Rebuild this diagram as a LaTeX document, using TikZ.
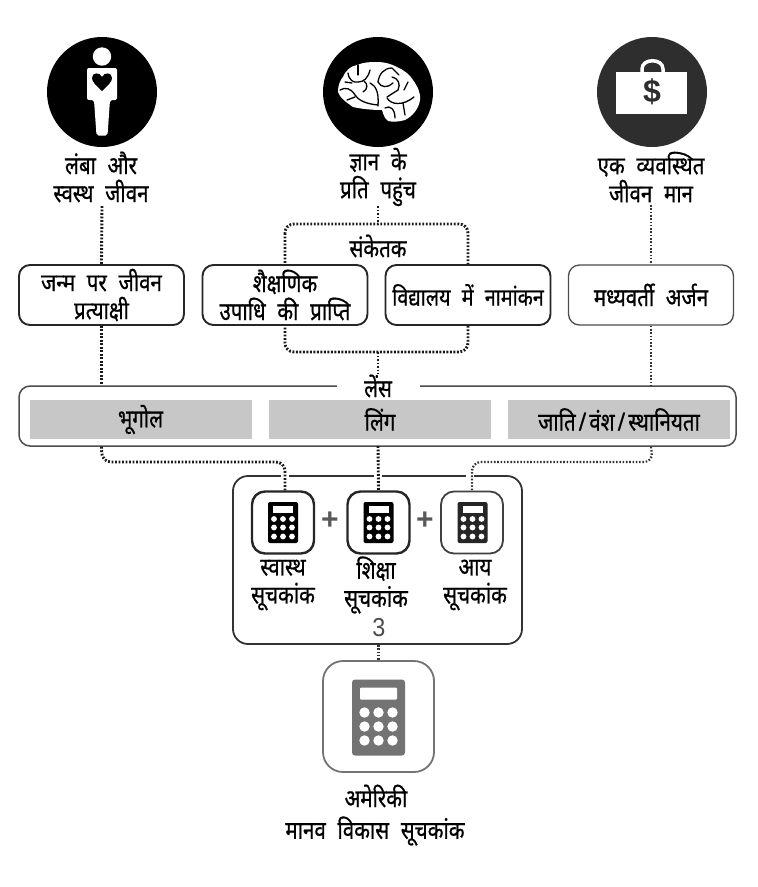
\documentclass[tikz,border=0pt]{standalone}
\usepackage{fontspec}
\newfontfamily\hin[Script=Devanagari,FakeStretch=0.82,FakeBold=0.7,WordSpace=2.2]{Noto Sans}
\setsansfont{Liberation Sans}
\tikzset{x=1pt,y=-1pt,
  txt/.style={font=\hin\fontsize{25}{28}\selectfont,align=center,inner sep=0pt,text=black},
  bx/.style={draw=black!85,line width=1.9pt,rounded corners=11pt,fill=white,inner sep=0pt,font=\hin\fontsize{25}{28}\selectfont,align=center,minimum width=165pt,minimum height=60pt},
  bxlight/.style={bx,draw=black!70,line width=1.3pt},
  dotl/.style={draw=black!90,line width=2.9pt,dash pattern=on 1.8pt off 1.7pt},
  dotthin/.style={draw=black!80,line width=2.2pt,dash pattern=on 1.6pt off 1.7pt},
  graybar/.style={fill=black!22,inner sep=0pt,minimum height=39pt,font=\hin\fontsize{25}{28}\selectfont},
  disc/.style={circle,fill=black,minimum size=110pt,inner sep=0pt},
  halo/.style={draw=white,line width=8pt},
  icon/.style={draw=black!85,line width=2.4pt,rounded corners=13pt,fill=white,minimum size=62pt,inner sep=0pt},
  plus/.style={font=\sffamily\bfseries\fontsize{30}{30}\selectfont,text=black!65,inner sep=0pt},
}
\newcommand{\calcicon}[4]{% centre x, centre y, scale, colour
  \begin{scope}[shift={(#1,#2)},scale=#3]
    \fill[#4,rounded corners=2pt] (-15,-20.5) rectangle (15,20.5);
    \fill[white] (-10,-17) rectangle (10,-9.5);
    \foreach \kx in {-9,0,9}\foreach \ky in {-3.5,5,14}{\fill[white] (\kx,\ky) circle (2.9);}
  \end{scope}}
\begin{document}
\begin{tikzpicture}
\useasboundingbox (0,0) rectangle (758,887);
% discs
\node[disc] (d1) at (102,92) {};
\node[disc] (d2) at (378,92) {};
\node[disc,fill=black!82] (d3) at (652,92) {};
% person
\fill[white] (102,56.5) circle (9.2);
\fill[white,rounded corners=2pt] (87,68) -- (117,68) -- (117,100) -- (110,100) -- (107.5,135.5) -- (96.5,135.5) -- (94,100) -- (87,100) -- cycle;
\fill[black] (102,91) .. controls (96,85) and (92,82) .. (92,78) .. controls (92,72) and (100,72) .. (102,77) .. controls (104,72) and (112,72) .. (112,78) .. controls (112,82) and (108,85) .. (102,91) -- cycle;
% brain
\fill[white] (338,92) .. controls (338,84) and (341,79) .. (343,77) .. controls (346,70) and (351,66) .. (357,65) .. controls (364,62) and (371,62) .. (377,62) .. controls (385,62) and (391,64) .. (397,67) .. controls (404,70) and (410,75) .. (413,80) .. controls (418,87) and (421,94) .. (420,100) .. controls (419,108) and (413,116) .. (405,120) .. controls (399,122) and (392,122) .. (388,121) .. controls (384,118) and (383,113) .. (382,110) .. controls (372,110) and (362,109) .. (353,107) .. controls (346,102) and (340,98) .. (338,92) -- cycle;
\begin{scope}[draw=black,line width=1.3pt,line cap=round]
\draw (358,65) -- (358,75);
\draw (348,73) .. controls (349,80) and (353,83) .. (358,82) .. controls (364,82) and (368,78) .. (370,70);
\draw (345,82) -- (352,83);
\draw (340,90) .. controls (345,87) and (351,88) .. (355,95) .. controls (358,100) and (366,104) .. (378,105);
\draw (364,81) .. controls (368,84) and (368,89) .. (363,92);
\draw (370,83) .. controls (376,86) and (379,92) .. (378,106);
\draw (347,100) -- (355,97);
\draw (378,82) .. controls (379,74) and (384,68) .. (392,68) -- (399,75);
\draw (378,82) .. controls (381,88) and (388,88) .. (393,83);
\draw (392,77) .. controls (398,78) and (401,84) .. (398,90) -- (387,97);
\draw (387,98) .. controls (391,105) and (403,106) .. (414,97);
\draw (385,108) .. controls (390,105) and (395,109) .. (395,118);
\draw (403,103) -- (405,115);
\draw (408,82) -- (404,90);
\end{scope}
% suitcase
\draw[white,line width=3.5pt] (642,73) -- (642,69) .. controls (642,58) and (663,58) .. (663,69) -- (663,73);
\fill[white] (616,72) rectangle (687,114);
\node[font=\sffamily\bfseries\fontsize{32}{32}\selectfont,text=black!82,inner sep=0pt] (dollar) at (652,92) {\$};
% heading labels
\node[txt] (l1) at (101,177) {लंबा और\\स्वस्थ जीवन};
\node[txt] (l2) at (378,177) {ज्ञान के\\प्रति पहुंच};
\node[txt] (l3) at (651,177) {एक व्यवस्थित\\जीवन मान};
\coordinate (c1) at (102,206);
\coordinate (c2) at (378,206);
\coordinate (c3) at (651,205);
% indicator frame
\coordinate (ktl) at (285,224);
\coordinate (kbr) at (468,352);
\coordinate (ktop) at (378,224);
\coordinate (kbot) at (378,352);
\draw[dotl,rounded corners=9pt] (ktl) rectangle (kbr);
\node[txt] (sk) at (378,246) {संकेतक};
% boxes
\node[bx] (b1) at (101.5,295) {जन्म पर जीवन\\प्रत्याक्षी};
\node[bx] (b2) at (285,295) {शैक्षणिक\\उपाधि की प्राप्ति};
\node[bx,font=\hin\fontsize{24}{28}\selectfont] (b3) at (468,295) {विद्यालय में नामांकन};
\node[bxlight] (b4) at (651,295) {मध्यवर्ती अर्जन};
\draw[dotl] (c1) -- (b1.north);
\draw[dotl] (c2) -- (ktop);
\draw[dotthin] (c3) -- (b4.north);
% lens
\node[draw=black!70,line width=1.5pt,rounded corners=11pt,minimum width=717pt,minimum height=60pt,inner sep=0pt] (lens) at (377.5,416) {};
\node[txt,fill=white,minimum width=83pt,minimum height=24pt] (lt) at (378,386) {लेंस};
\node[graybar,minimum width=222pt] (g1) at (140.5,419.5) {भूगोल};
\node[graybar,minimum width=222pt] (g2) at (380,419.5) {लिंग};
\node[graybar,minimum width=222pt] (g3) at (619,419.5) {जाति\kern3pt/\kern3pt वंश\kern3pt/\kern3pt स्थानियता};
\coordinate (lt1) at (b1.north |- lens.north);
\coordinate (lt3) at (b4.north |- lens.north);
\coordinate (lb1) at (b1.north |- lens.south);
\coordinate (lb2) at (378,446);
\coordinate (lb3) at (b4.north |- lens.south);
\draw[dotl] (b1.south) -- (lt1);
\draw[dotl] (kbot) -- (lt);
\draw[dotthin] (b4.south) -- (lt3);
% index group
\node[draw=black!80,line width=1.8pt,rounded corners=15pt,minimum width=289pt,minimum height=168pt,inner sep=0pt] (grp) at (377.5,560) {};
\node[icon] (i1) at (283,522.5) {};
\node[icon] (i2) at (378.5,522.5) {};
\node[icon,draw=black!75,line width=1.8pt] (i3) at (472,522.5) {};
\calcicon{283}{522.5}{1}{black}
\calcicon{378.5}{522.5}{1}{black}
\calcicon{472.5}{522.5}{1}{black!85}
\node[plus] (p1) at (330,521) {+};
\node[plus] (p2) at (425,521) {+};
\node[txt] (t1) at (283,585) {स्वास्थ\\सूचकांक};
\node[txt] (t2) at (376,585) {शिक्षा\\सूचकांक};
\node[txt] (t3) at (475,585) {आय\\सूचकांक};
\node[font=\sffamily\fontsize{26}{26}\selectfont,text=black!70,inner sep=0pt] (three) at (379,628) {\scalebox{0.9}[1]{3}};
% connectors into the group
\draw[halo] (285,470) -- (285,482);
\draw[halo] (378,470) -- (378,482);
\draw[halo] (470,470) -- (470,482);
\draw[dotl,rounded corners=9pt] (lb1) -- (102,462) -- (285,462) -- (i1.north -| 285,0);
\draw[dotl] (lb2) -- (i2.north);
\draw[dotthin,rounded corners=9pt] (lb3) -- (653,462) -- (472,462) -- (i3.north);
% total
\node[draw=black!55,line width=1.8pt,rounded corners=20pt,minimum size=111pt,inner sep=0pt] (big) at (378.5,716.5) {};
\draw[dotthin] (grp.south -| big.north) -- (big.north);
\begin{scope}[shift={(378.5,717.5)}]
  \fill[black!55,rounded corners=3pt] (-26.5,-38) rectangle (26.5,38);
  \fill[white,rounded corners=1pt] (-18.5,-30) rectangle (18.5,-18);
  \foreach \kx in {-14,0,14}\foreach \ky in {-5,9,23}{\fill[white] (\kx,\ky) circle (5.2);}
\end{scope}
\node[txt] (u1) at (376,796) {अमेरिकी};
\node[txt] (u2) at (375,831) {मानव विकास सूचकांक};
\end{tikzpicture}
\end{document}
